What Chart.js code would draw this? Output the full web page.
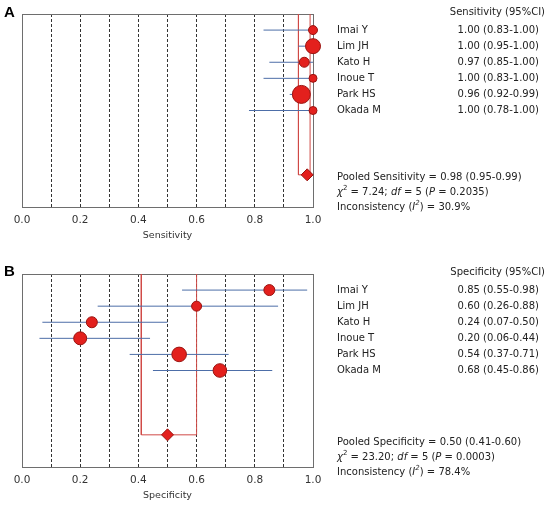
<!DOCTYPE html>
<html lang="en">
<head>
<meta charset="UTF-8">
<title>Forest plot</title>
<script src="https://cdn.jsdelivr.net/npm/chart.js"></script>
<style>
  body { margin: 0; background: #fff; overflow: hidden; }
  .panel { position: absolute; left: 0; width: 552px; }
  #panelA { top: 0; height: 247px; }
  #panelB { top: 247px; height: 260px; }
</style>
</head>
<body>
<div class="panel" id="panelA"><canvas id="chartA" width="552" height="247"></canvas></div>
<div class="panel" id="panelB"><canvas id="chartB" width="552" height="260"></canvas></div>
<script>
// study data
const studies = ['Imai Y', 'Lim JH', 'Kato H', 'Inoue T', 'Park HS', 'Okada M'];
const sensValue = [1.00, 1.00, 0.97, 1.00, 0.96, 1.00];
const sensLow = [0.83, 0.95, 0.85, 0.83, 0.92, 0.78];
const sensHigh = [1.00, 1.00, 1.00, 1.00, 0.99, 1.00];
const specValue = [0.85, 0.60, 0.24, 0.20, 0.54, 0.68];
const specLow = [0.55, 0.26, 0.07, 0.06, 0.37, 0.45];
const specHigh = [0.98, 0.88, 0.50, 0.44, 0.71, 0.86];
// pooled: estimate, low, high
const sensPooled = [0.98, 0.95, 0.99];
const specPooled = [0.50, 0.41, 0.60];
// chi2, df, P, I2
const sensStats = ['7.24', '5', '0.2035', '30.9'];
const specStats = ['23.20', '5', '0.0003', '78.4'];
const xTickLabels = ['0.0', '0.2', '0.4', '0.6', '0.8', '1.0'];

// marker sizes (study weight)
const sensRadius = [4.5, 7.5, 5, 4, 9, 4];
const specRadius = [5.5, 5, 5.5, 6.5, 7.3, 6.8];

const FONT = '"DejaVu Sans", Verdana, sans-serif';
const RED = '#e3201d';
const DARK_RED = '#9a1410';
const BRACKET = '#d04a46';
const BLUE = '#4d6ea8';
const POOLED_ROW = 10;

function drawRich(ctx, parts, x, y) {
    parts.forEach(function(p) {
        const text = p[0], style = p[1] || '';
        const sup = style.indexOf('sup') >= 0;
        const italic = style.indexOf('i') === 0;
        ctx.font = (italic ? 'italic ' : '') + (sup ? '7px ' : '10px ') + FONT;
        ctx.fillText(text, x, sup ? y - 4 : y);
        x += ctx.measureText(text).width;
    });
}

const sidePanel = {
    id: 'sidePanel',
    beforeDatasetsDraw(chart) {
        const a = chart.chartArea, ctx = chart.ctx;
        ctx.save();
        ctx.strokeStyle = '#6e6e6e';
        ctx.lineWidth = 1;
        ctx.strokeRect(Math.round(a.left) + 0.5, Math.round(a.top) + 0.5,
            Math.round(a.right - a.left), Math.round(a.bottom - a.top));
        ctx.restore();
    },
    afterDraw(chart, args, o) {
        const ctx = chart.ctx, a = chart.chartArea, y = chart.scales.y;
        ctx.save();
        ctx.fillStyle = '#000';
        ctx.textBaseline = 'middle';
        ctx.font = 'bold 15px "Liberation Sans", Arial, sans-serif';
        ctx.textAlign = 'left';
        ctx.fillText(o.letter, 4, o.letterY);

        ctx.fillStyle = '#222';
        ctx.font = '10px ' + FONT;
        ctx.textAlign = 'right';
        ctx.fillText(o.header + ' (95%CI)', 545, a.top - 2);
        studies.forEach(function(name, i) {
            const py = y.getPixelForValue(i + 1);
            ctx.textAlign = 'left';
            ctx.fillText(name, 337, py);
            ctx.textAlign = 'right';
            ctx.fillText(o.values[i].toFixed(2) + ' (' + o.low[i].toFixed(2) + '-' + o.high[i].toFixed(2) + ')', 539, py);
        });
        ctx.textAlign = 'left';
        const s = o.stats, p = o.pooled, t = o.statsY;
        drawRich(ctx, [['Pooled ' + o.header + ' = ' + p[0].toFixed(2) + ' (' + p[1].toFixed(2) + '-' + p[2].toFixed(2) + ')']], 337, t);
        drawRich(ctx, [['\u03c7', 'i'], ['2', 'sup'], [' = ' + s[0] + '; '], ['df', 'i'], [' = ' + s[1] + ' ('], ['P', 'i'], [' = ' + s[2] + ')']], 337, t + 15);
        drawRich(ctx, [['Inconsistency ('], ['I', 'i'], ['2', 'isup'], [') = ' + s[3] + '%']], 337, t + 30);
        ctx.restore();
    }
};

function makeForest(canvasId, cfg) {
    const ciSets = cfg.values.map(function(v, i) {
        return {
            data: [{ x: cfg.low[i], y: i + 1 }, { x: cfg.high[i], y: i + 1 }],
            showLine: true, borderColor: BLUE, borderWidth: 1, pointRadius: 0, order: 3
        };
    });
    const p = cfg.pooled;
    const bracket = {
        data: [{ x: p[1], y: 0 }, { x: p[1], y: POOLED_ROW }, { x: p[2], y: POOLED_ROW }, { x: p[2], y: 0 }],
        showLine: true, borderColor: BRACKET, borderWidth: 1, pointRadius: 0, order: 4
    };
    const points = {
        data: cfg.values.map(function(v, i) { return { x: v, y: i + 1 }; }),
        pointRadius: cfg.radius, backgroundColor: RED, borderColor: DARK_RED,
        borderWidth: 1, order: 1, clip: false
    };
    const diamond = {
        data: [{ x: p[0], y: POOLED_ROW }],
        pointStyle: 'rectRot', pointRadius: 6, backgroundColor: RED, borderColor: DARK_RED,
        borderWidth: 1, order: 0, clip: false
    };

    return new Chart(document.getElementById(canvasId), {
        type: 'scatter',
        data: { datasets: [diamond, points].concat(ciSets, [bracket]) },
        options: {
            responsive: false,
            animation: false,
            events: [],
            layout: { padding: { top: cfg.top, left: 22, right: 239, bottom: 0 } },
            plugins: {
                legend: { display: false },
                tooltip: { enabled: false },
                sidePanel: {
                    letter: cfg.letter, letterY: cfg.letterY, header: cfg.header,
                    values: cfg.values, low: cfg.low, high: cfg.high,
                    pooled: cfg.pooled, stats: cfg.stats, statsY: cfg.statsY
                }
            },
            scales: {
                x: {
                    type: 'linear', min: 0, max: 1,
                    afterFit: function(s) { s.height = 40; },
                    ticks: {
                        stepSize: 0.1, autoSkip: false, maxRotation: 0, padding: 7,
                        color: '#333', font: { family: FONT, size: 10.5 },
                        callback: function(v) {
                            const lbl = Number(v).toFixed(1);
                            return xTickLabels.indexOf(lbl) >= 0 ? lbl : '';
                        }
                    },
                    grid: {
                        drawTicks: false, lineWidth: 1,
                        color: function(c) {
                            const v = c.tick ? c.tick.value : 0;
                            return (v > 0.001 && v < 0.999) ? '#333' : 'rgba(0,0,0,0)';
                        }
                    },
                    border: { display: false, dash: [3, 2] },
                    title: {
                        display: true, text: cfg.header, color: '#333',
                        font: { family: FONT, size: 9.5 }, padding: { top: 0, bottom: 6 }
                    }
                },
                y: { type: 'linear', min: 0, max: 12, reverse: true, display: false }
            }
        },
        plugins: [sidePanel]
    });
}

makeForest('chartA', {
    letter: 'A', letterY: 13, header: 'Sensitivity', top: 14, statsY: 177,
    values: sensValue, low: sensLow, high: sensHigh, radius: sensRadius,
    pooled: sensPooled, stats: sensStats
});
makeForest('chartB', {
    letter: 'B', letterY: 25, header: 'Specificity', top: 27, statsY: 195,
    values: specValue, low: specLow, high: specHigh, radius: specRadius,
    pooled: specPooled, stats: specStats
});
</script>
</body>
</html>
